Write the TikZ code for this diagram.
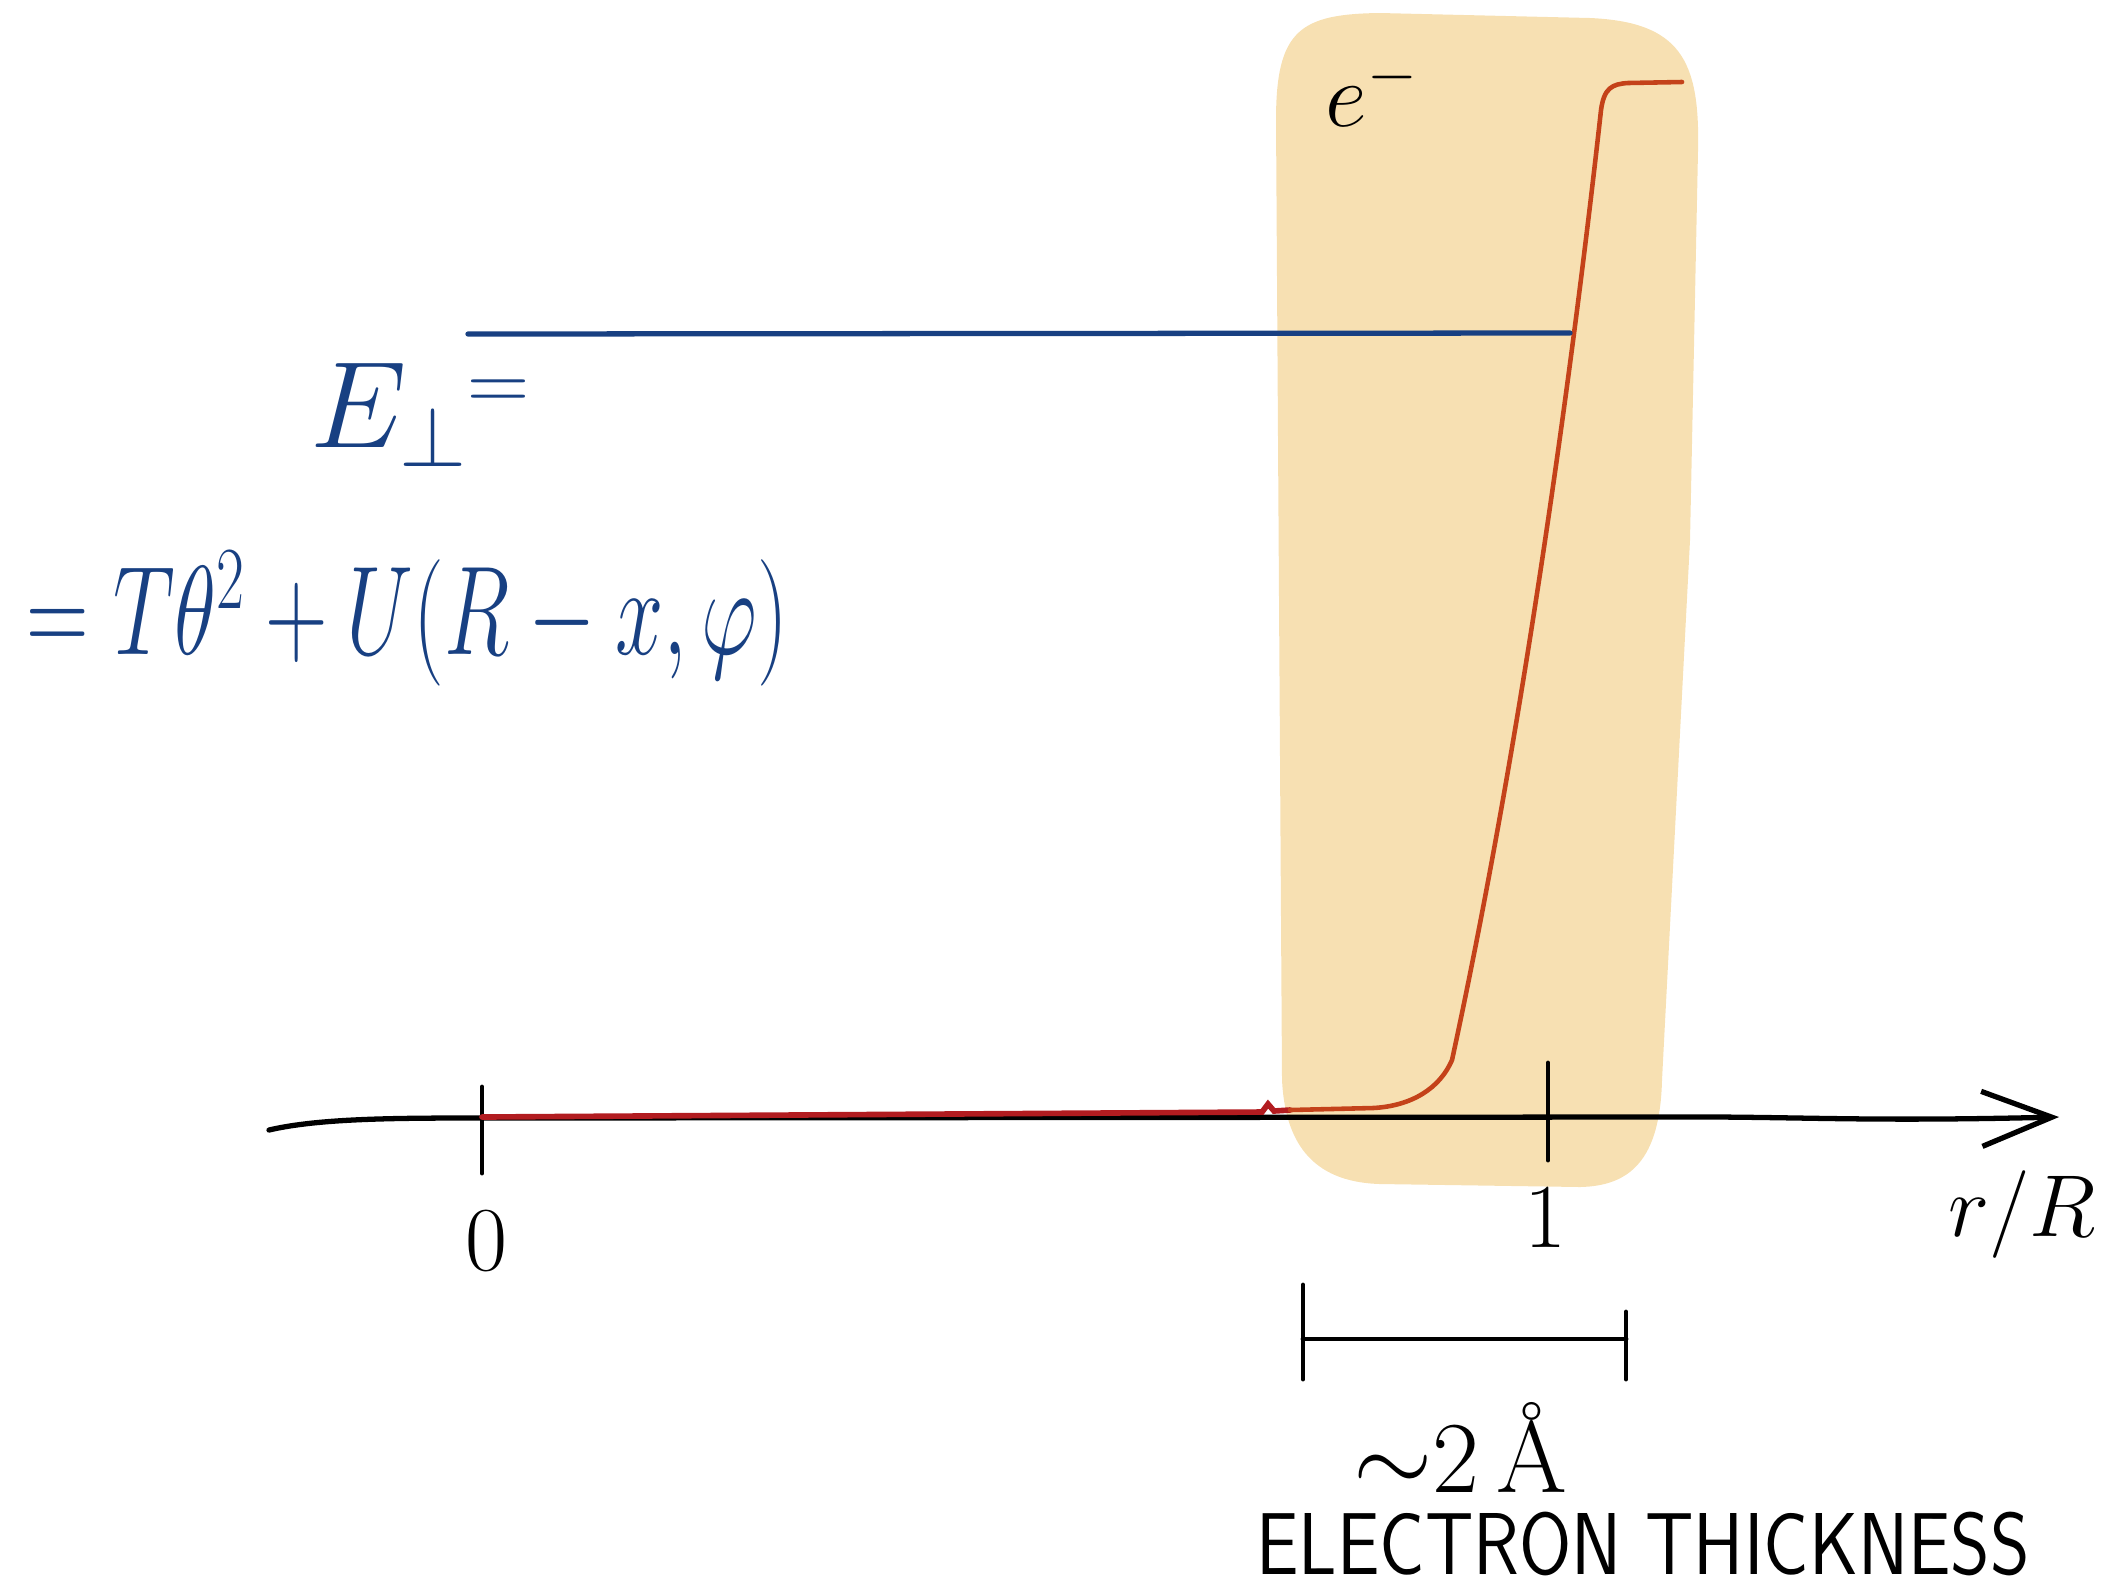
\RequirePackage{fix-cm}
\documentclass[tikz,border=0pt]{standalone}
\usepackage{fontspec}
\usepackage{graphicx}
\usetikzlibrary{arrows.meta}
\definecolor{boxfill}{RGB}{247,224,178}
\definecolor{inkblue}{RGB}{24,64,130}
\definecolor{inkred}{RGB}{178,28,32}
\definecolor{inkorange}{RGB}{196,66,26}
\tikzset{
  axisline/.style={line width=1.5pt, black, line cap=round},
  tickline/.style={line width=1.4pt, black, line cap=round},
  bluetxt/.style={text=inkblue, inner sep=0pt},
  blacktxt/.style={text=black, inner sep=0pt},
}
\begin{document}
\begin{tikzpicture}[x=0.01cm,y=-0.01cm]
\useasboundingbox (0,0) rectangle (2110,1590);
% highlighted electron shell
\fill[boxfill] (1276,120) .. controls (1276,30) and (1300,14) .. (1380,13)
  -- (1590,18) .. controls (1680,22) and (1700,60) .. (1698,150)
  -- (1690,540) -- (1662,1080) .. controls (1660,1160) and (1630,1186) .. (1580,1187)
  -- (1380,1184) .. controls (1310,1182) and (1285,1140) .. (1282,1080) -- cycle;
% axis
\draw[axisline, -{Straight Barb[length=7mm,width=5.5mm,line width=1.5pt]}]
  (269,1130) .. controls (320,1118) and (400,1118) .. (482,1118)
  -- (1650,1117) .. controls (1800,1116) and (1850,1122) .. (2059,1117);
\draw[tickline] (482,1087) -- (482,1173);
\draw[tickline] (1548,1063) -- (1548,1160);
\node[blacktxt, font=\fontsize{26}{28}\selectfont] (zero) at (486,1241) {$0$};
\node[blacktxt, font=\fontsize{26}{28}\selectfont] (one) at (1545,1218) {$1$};
\node[blacktxt, font=\fontsize{25}{27}\selectfont] (rR) at (2022,1214) {$r/R$};
% potential curve
\draw[inkred, line width=1.6pt, line cap=round] (482,1117) -- (1262,1112) -- (1268,1104) -- (1274,1111) -- (1290,1110);
\draw[inkorange, line width=1.3pt, line cap=round, line join=round]
  (1290,1110) -- (1373,1108) .. controls (1412,1106) and (1440,1088) .. (1452,1060)
  .. controls (1530,700) and (1580,300) .. (1601,110)
  .. controls (1604,88) and (1612,84) .. (1628,83) -- (1682,82);
% energy level
\draw[inkblue, line width=1.5pt, line cap=round] (468,334) -- (1570,333);
\node[bluetxt, font=\fontsize{35}{37}\selectfont] (elabel) at (420,415) {$E_{\perp}\raisebox{0.7ex}{$\scriptstyle=$}$};
\node[bluetxt, font=\fontsize{36}{38}\selectfont, anchor=west] (eformula) at (26,619) {\scalebox{0.685}[1]{$= T\theta^{2} + U(R-x,\varphi)$}};
% labels
\node[blacktxt, font=\fontsize{26}{28}\selectfont] (electron) at (1372,91) {$e^{-}$};
% scale bar
\coordinate (sbl) at (1303,1339);
\coordinate (sbr) at (1626,1339);
\draw[tickline] (sbl) -- (sbr);
\draw[tickline] (1303,1285) -- (1303,1379);
\draw[tickline] (1626,1312) -- (1626,1379);
\node[blacktxt, font=\fontsize{29}{31}\selectfont] (thick) at (1460,1447) {$\sim$2\,Å};
\node[blacktxt, font=\sffamily\fontsize{25}{27}\selectfont] (thicklbl) at (1643,1544) {\scalebox{0.86}[1]{ELECTRON THICKNESS}};
\end{tikzpicture}
\end{document}
